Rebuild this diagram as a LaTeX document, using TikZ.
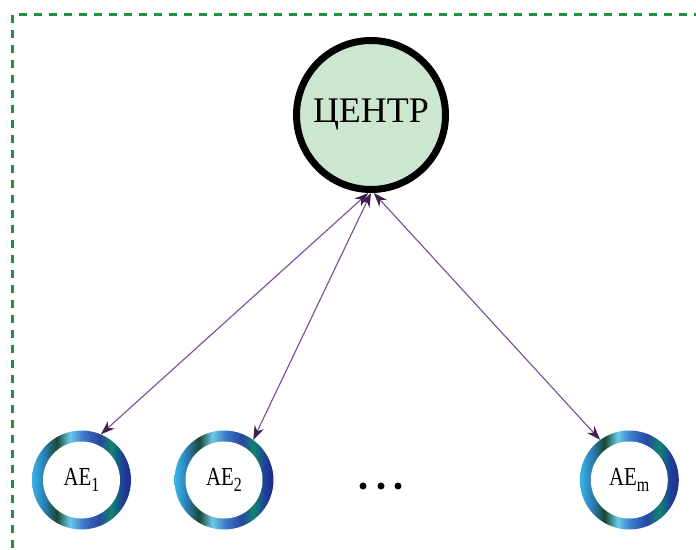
\documentclass[tikz,border=0pt]{standalone}
\usepackage{fontspec}
\setmainfont{Liberation Serif}
\usetikzlibrary{arrows.meta}
\definecolor{framecol}{HTML}{23913F}
\definecolor{centerfill}{HTML}{CDE6D0}
\definecolor{linkcol}{HTML}{7A4A98}
\definecolor{linkhead}{HTML}{3E1F4E}
\definecolor{ra}{HTML}{3AB4E8}
\definecolor{rb}{HTML}{2A80B8}
\definecolor{rc}{HTML}{1A4834}
\definecolor{rd}{HTML}{6CC8E8}
\definecolor{re}{HTML}{3A78C8}
\definecolor{rf}{HTML}{2848A0}
\definecolor{rg}{HTML}{108470}
\definecolor{rh}{HTML}{203C98}
\definecolor{ri}{HTML}{1C2C88}
\pgfdeclarehorizontalshading{aering}{100bp}{color(0bp)=(ra); color(25bp)=(ra); color(31bp)=(rb); color(37.5bp)=(rc); color(44bp)=(rd); color(51bp)=(re); color(59bp)=(rf); color(65bp)=(rg); color(71bp)=(rh); color(75bp)=(ri); color(100bp)=(ri)}
\newcommand\aelabel[1]{\scalebox{0.8}[1]{\fontsize{26}{26}\selectfont AE\raisebox{-6pt}{\fontsize{20}{20}\selectfont #1}}}
\tikzset{
  framestyle/.style={draw=framecol, line width=3pt, dash pattern=on 8pt off 7pt},
  centernode/.style={circle, draw=black, line width=7pt, fill=centerfill, minimum size=149pt, inner sep=0pt, font=\fontsize{36}{36}\selectfont},
  aenode/.style={circle, minimum size=99pt, inner sep=0pt, shading=aering,
    path picture={\fill[white] (path picture bounding box.center) circle (38.5pt);}},
  dotnode/.style={circle, fill=black, minimum size=7pt, inner sep=0pt},
  link/.style={draw=linkcol, line width=1.1pt,
    {Stealth[length=14pt, width=10pt, inset=4.5pt, color=linkhead]}-{Stealth[length=14pt, width=10pt, inset=4.5pt, color=linkhead]}}
}
\begin{document}
\begin{tikzpicture}[x=1pt, y=-1pt]
\useasboundingbox (0,0) rectangle (696,549);
\clip (0,0) rectangle (696,549);
\draw[framestyle] (12,15) -- (12,560);
\draw[framestyle] (19,14) -- (710,14);
\node[centernode] (c) at (371,115) {ЦЕНТР};
\node[aenode] (ae1) at (81.5,480) {\aelabel{1}};
\node[aenode] (ae2) at (224,480) {\aelabel{2}};
\node[aenode] (aem) at (629.3,480) {\aelabel{m}};
\node[dotnode] (d1) at (363,486) {};
\node[dotnode] (d2) at (381,486) {};
\node[dotnode] (d3) at (398,486) {};
\draw[link] (c.268) -- (ae1.67);
\draw[link] (c.270) -- (ae2.54);
\draw[link] (c.272) -- (aem.126);
\end{tikzpicture}
\end{document}
